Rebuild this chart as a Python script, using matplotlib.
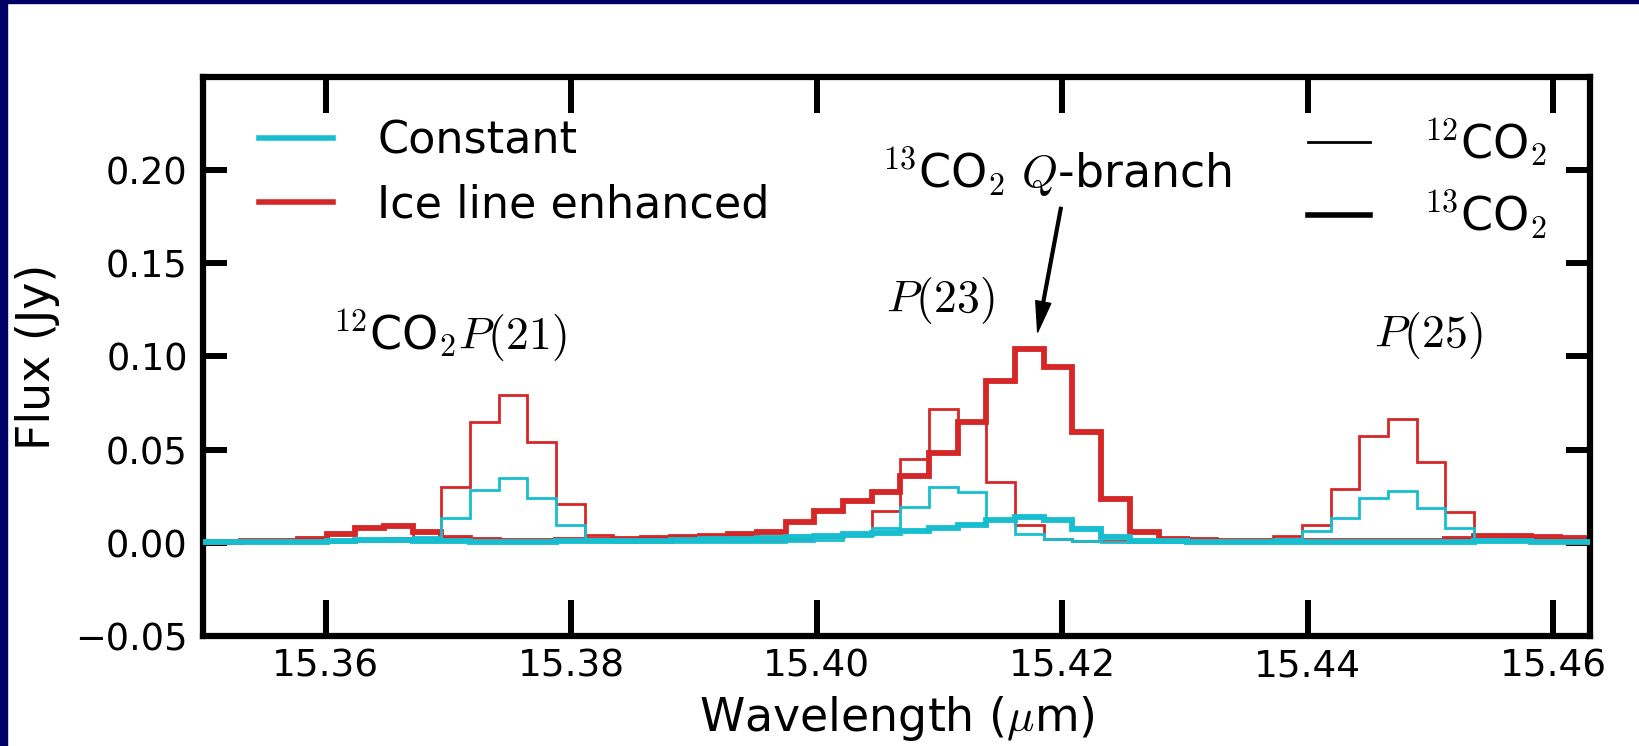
"""CO2 line fluxes near 15.4 micron: constant vs ice-line-enhanced models."""
import matplotlib
matplotlib.use('Agg')
from matplotlib import pyplot as plt
from matplotlib.lines import Line2D
from matplotlib.patches import Rectangle

plt.rcParams['font.family'] = ['DejaVu Sans']
plt.rcParams['mathtext.fontset'] = 'cm'

# Bin edges of the model spectra (micron)
wave_edges = [
    15.34839, 15.35072, 15.35306, 15.35540, 15.35774, 15.36007, 15.36241,
    15.36475, 15.36708, 15.36942, 15.37176, 15.37409, 15.37643, 15.37877,
    15.38111, 15.38344, 15.38578, 15.38812, 15.39045, 15.39279, 15.39513,
    15.39746, 15.39980, 15.40214, 15.40448, 15.40681, 15.40915, 15.41149,
    15.41382, 15.41616, 15.41850, 15.42083, 15.42317, 15.42551, 15.42785,
    15.43018, 15.43252, 15.43486, 15.43719, 15.43953, 15.44187, 15.44420,
    15.44654, 15.44888, 15.45122, 15.45355, 15.45589, 15.45823, 15.46056,
    15.46290, 15.46524,
]

# 12CO2, ice line enhanced (thin red)
flux_12_ice = [
    0.0003, 0.0003, 0.0004, 0.0005, 0.0008, 0.0012, 0.0018, 0.0027, 0.0064,
    0.0298, 0.0649, 0.0792, 0.0542, 0.0209, 0.0043, 0.0010, 0.0008, 0.0008,
    0.0009, 0.0010, 0.0012, 0.0018, 0.0030, 0.0048, 0.0168, 0.0450, 0.0717,
    0.0648, 0.0325, 0.0093, 0.0023, 0.0012, 0.0009, 0.0008, 0.0008, 0.0008,
    0.0009, 0.0012, 0.0037, 0.0098, 0.0289, 0.0574, 0.0667, 0.0435, 0.0166,
    0.0038, 0.0014, 0.0010, 0.0008, 0.0007,
]

# 12CO2, constant (thin cyan)
flux_12_const = [
    0.0002, 0.0002, 0.0002, 0.0003, 0.0004, 0.0006, 0.0008, 0.0012, 0.0030,
    0.0132, 0.0285, 0.0349, 0.0241, 0.0093, 0.0022, 0.0006, 0.0005, 0.0005,
    0.0005, 0.0005, 0.0005, 0.0008, 0.0014, 0.0035, 0.0077, 0.0192, 0.0301,
    0.0273, 0.0125, 0.0048, 0.0019, 0.0008, 0.0005, 0.0005, 0.0005, 0.0005,
    0.0005, 0.0007, 0.0021, 0.0064, 0.0132, 0.0239, 0.0280, 0.0186, 0.0079,
    0.0020, 0.0007, 0.0004, 0.0004, 0.0004,
]

# 13CO2, ice line enhanced (thick red)
flux_13_ice = [
    0.0004, 0.0005, 0.0007, 0.0010, 0.0018, 0.0048, 0.0080, 0.0089, 0.0057,
    0.0025, 0.0014, 0.0012, 0.0012, 0.0013, 0.0015, 0.0021, 0.0025, 0.0030,
    0.0036, 0.0045, 0.0060, 0.0114, 0.0173, 0.0226, 0.0271, 0.0360, 0.0480,
    0.0650, 0.0868, 0.1038, 0.0945, 0.0592, 0.0235, 0.0057, 0.0021, 0.0013,
    0.0010, 0.0009, 0.0009, 0.0009, 0.0009, 0.0010, 0.0010, 0.0012, 0.0018,
    0.0036, 0.0035, 0.0033, 0.0028, 0.0025,
]

# 13CO2, constant (thick cyan)
flux_13_const = [
    0.0002, 0.0003, 0.0003, 0.0004, 0.0006, 0.0010, 0.0014, 0.0016, 0.0012,
    0.0008, 0.0006, 0.0006, 0.0006, 0.0007, 0.0008, 0.0010, 0.0012, 0.0015,
    0.0018, 0.0022, 0.0026, 0.0030, 0.0036, 0.0045, 0.0055, 0.0063, 0.0078,
    0.0096, 0.0122, 0.0137, 0.0122, 0.0075, 0.0030, 0.0012, 0.0008, 0.0006,
    0.0005, 0.0005, 0.0005, 0.0005, 0.0005, 0.0005, 0.0005, 0.0005, 0.0006,
    0.0007, 0.0007, 0.0006, 0.0006, 0.0005,
]

x_ticks = [15.36, 15.38, 15.40, 15.42, 15.44, 15.46]
y_ticks = [-0.05, 0.00, 0.05, 0.10, 0.15, 0.20]

red = '#d62728'
cyan = '#17becf'

fig = plt.figure(figsize=(16.4, 7.46), dpi=100)
ax = fig.add_axes([0.1238, 0.1475, 0.8457, 0.7493])

# navy slide border
fig.add_artist(Rectangle((0, 0), 7 / 1640, 1, transform=fig.transFigure,
                         color='#000066', zorder=0))
fig.add_artist(Rectangle((0, 1 - 3 / 746), 1, 3 / 746,
                         transform=fig.transFigure, color='#000066', zorder=0))

# spectra
ax.stairs(flux_12_ice, wave_edges, color=red, lw=2.0, zorder=2)
ax.stairs(flux_13_ice, wave_edges, color=red, lw=4.2, zorder=2)
ax.stairs(flux_12_const, wave_edges, color=cyan, lw=2.0, zorder=3)
ax.stairs(flux_13_const, wave_edges, color=cyan, lw=4.2, zorder=3)

ax.set_xlim(15.35, 15.463)
ax.set_ylim(-0.05, 0.25)
ax.set_xticks(x_ticks)
ax.set_yticks(y_ticks)
ax.set_yticklabels(['\u22120.05', '0.00', '0.05', '0.10', '0.15', '0.20'])

for sp in ax.spines.values():
    sp.set_linewidth(4.5)
ax.tick_params(axis='x', direction='in', length=26, width=4.3, top=True,
               labelsize=27, pad=9)
ax.tick_params(axis='y', direction='in', length=17, width=4.3, right=True,
               labelsize=26.5, pad=11)

ax.set_xlabel(r'Wavelength ($\mu$m)', fontsize=33, labelpad=7)
ax.set_ylabel('Flux (Jy)', fontsize=33, labelpad=11)

# line labels
ax.text(15.3701, 0.111, r'$^{12}$CO$_2$$P(21)$', fontsize=33,
        ha='center', va='center')
ax.text(15.4101, 0.130, r'$P(23)$', fontsize=33, ha='center', va='center')
ax.text(15.4498, 0.111, r'$P(25)$', fontsize=33, ha='center', va='center')
ax.text(15.4195, 0.1987, r'$^{13}$CO$_2$ $Q$-branch', fontsize=33,
        ha='center', va='center')
ax.annotate('', xy=(15.4180, 0.1131), xytext=(15.4199, 0.180),
            arrowprops=dict(facecolor='black', edgecolor='black', width=2,
                            headwidth=11, headlength=22, shrink=0))

# legends
model_handles = [Line2D([], [], color=cyan, lw=4), Line2D([], [], color=red, lw=4)]
leg1 = ax.legend(model_handles, ['Constant', 'Ice line enhanced'],
                 loc='upper left', bbox_to_anchor=(0.015, 0.987),
                 frameon=False, fontsize=32,
                 handlelength=1.65, handletextpad=1.0, labelspacing=0.47,
                 borderaxespad=0.4)
ax.add_artist(leg1)

iso_handles = [Line2D([], [], color='black', lw=2), Line2D([], [], color='black', lw=4)]
ax.legend(iso_handles, [r'$^{12}$CO$_2$', r'$^{13}$CO$_2$'],
          loc='upper right', bbox_to_anchor=(0.995, 0.995),
          frameon=False, fontsize=33,
          handlelength=1.35, handletextpad=1.15, labelspacing=0.43,
          borderaxespad=0.4)

fig.savefig('out.png', dpi=100)
